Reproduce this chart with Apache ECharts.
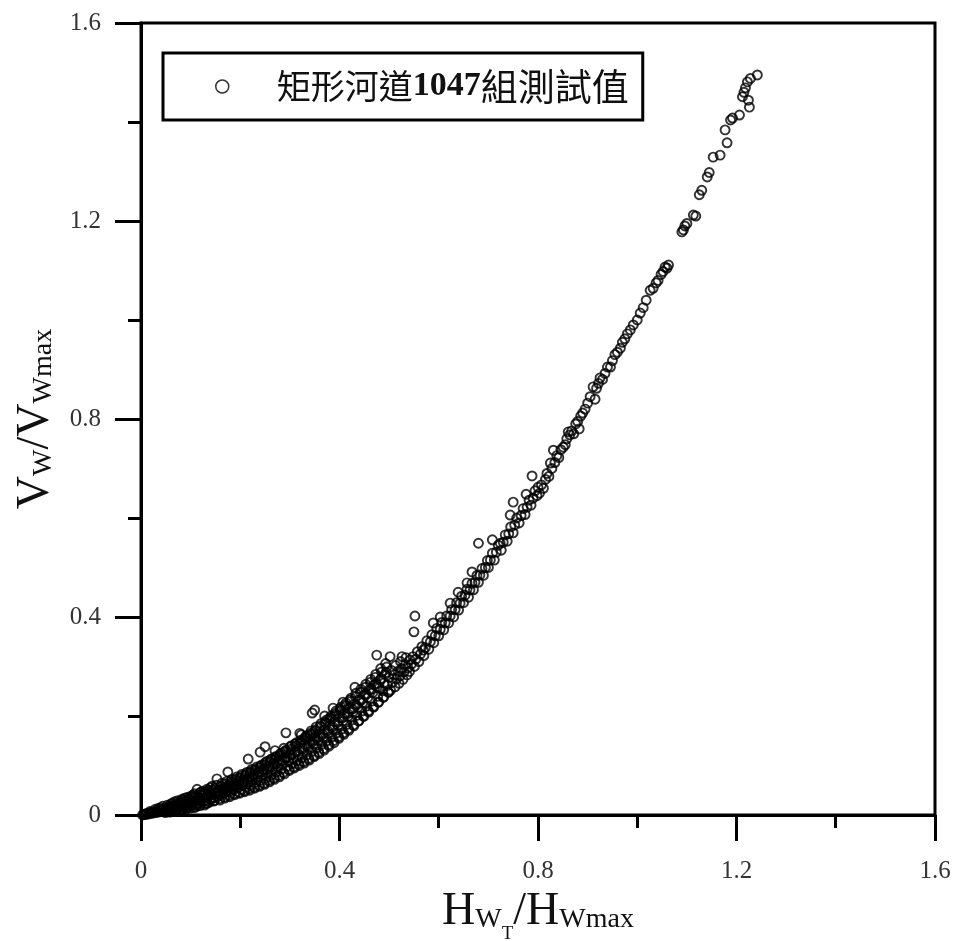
<!DOCTYPE html>
<html lang="zh-Hant">
<head>
  <meta charset="UTF-8">
  <title>矩形河道1047組測試值</title>
  <style>
    html, body { margin: 0; padding: 0; background: #fff; }
    #main { width: 956px; height: 941px; }
  </style>
</head>
<body>
<div id="main"></div>
<script src="https://cdn.jsdelivr.net/npm/echarts@6/dist/echarts.min.js"></script>
<script>
  // 測試值 [Hw/Hwmax, Vw/Vwmax]
  const pointsLow = [
    [0.003,0.000],[0.006,0.001],[0.008,0.002],[0.010,0.001],[0.012,0.003],[0.015,0.002],[0.017,0.004],[0.020,0.003],
    [0.022,0.005],[0.025,0.004],[0.027,0.006],[0.030,0.005],[0.032,0.008],[0.035,0.006],[0.037,0.009],[0.040,0.007],
    [0.040,0.015],[0.042,0.011],[0.045,0.008],[0.047,0.012],[0.050,0.010],[0.052,0.014],[0.055,0.009],[0.057,0.016],
    [0.060,0.012],[0.060,0.022],[0.062,0.018],[0.065,0.011],[0.067,0.015],[0.070,0.020],[0.072,0.013],[0.075,0.017],
    [0.077,0.023],[0.080,0.014],[0.080,0.028],[0.082,0.019],[0.085,0.026],[0.087,0.016],[0.090,0.021],[0.092,0.028],
    [0.095,0.018],[0.097,0.024],[0.100,0.031],[0.100,0.037],[0.102,0.020],[0.105,0.026],[0.107,0.034],[0.110,0.022],
    [0.110,0.016],[0.112,0.029],[0.113,0.052],[0.115,0.037],[0.117,0.024],[0.120,0.032],[0.120,0.046],[0.122,0.040],
    [0.125,0.027],[0.127,0.035],[0.130,0.044],[0.130,0.023],[0.132,0.029],[0.135,0.038],[0.137,0.047],[0.140,0.032],
    [0.140,0.055],[0.142,0.041],[0.145,0.050],[0.147,0.035],[0.150,0.044],[0.153,0.073],[0.155,0.038]
  ];
  // 原點附近密集區的補充讀值
  const pointsDense = [
    [0.018,0.007],[0.028,0.011],[0.034,0.013],[0.044,0.018],[0.049,0.005],[0.053,0.020],[0.058,0.006],[0.063,0.024],
    [0.068,0.027],[0.071,0.009],[0.074,0.029],[0.079,0.010],[0.083,0.032],[0.088,0.034],[0.091,0.012],[0.094,0.036],
    [0.099,0.014],[0.104,0.040],[0.108,0.043],[0.114,0.019],[0.118,0.043],[0.124,0.048],[0.128,0.020],[0.133,0.052],
    [0.138,0.026],[0.143,0.058],[0.148,0.029],[0.152,0.060],[0.158,0.033],[0.163,0.064],[0.168,0.036],[0.173,0.068],
    [0.178,0.040],[0.183,0.072],[0.188,0.043],[0.193,0.077],[0.198,0.046],[0.203,0.082],[0.208,0.049],[0.213,0.086],
    [0.218,0.053],[0.223,0.092],[0.228,0.056],[0.233,0.097],[0.238,0.060],[0.243,0.101],[0.248,0.064],[0.253,0.108],
    [0.258,0.070],[0.263,0.113],[0.268,0.075],[0.273,0.118],[0.278,0.080],[0.283,0.125],[0.287,0.086],[0.293,0.131],
    [0.298,0.092],[0.303,0.140],[0.308,0.097],[0.313,0.146],[0.318,0.103],[0.324,0.152],[0.328,0.108],[0.333,0.160],
    [0.338,0.114],[0.343,0.170],[0.349,0.120],[0.353,0.178],[0.358,0.127],[0.363,0.185],[0.368,0.134],[0.374,0.192],
    [0.378,0.142],[0.383,0.200],[0.388,0.150],[0.393,0.210],[0.398,0.158],[0.403,0.218],[0.408,0.166],[0.413,0.226],
    [0.418,0.174],[0.423,0.236],[0.428,0.182],[0.433,0.246],[0.438,0.190],[0.443,0.254],[0.448,0.200],[0.453,0.264],
    [0.458,0.210],[0.463,0.274],[0.468,0.219],[0.473,0.284],[0.478,0.228],[0.483,0.296],[0.488,0.238],[0.493,0.306],
    [0.498,0.248],[0.505,0.292],[0.513,0.302],[0.523,0.310],[0.534,0.318]
  ];
  const pointsDenseFill = [
    [0.052,0.007],[0.058,0.013],[0.064,0.019],[0.069,0.008],[0.073,0.024],[0.078,0.018],[0.084,0.011],[0.086,0.030],
    [0.093,0.015],[0.096,0.032],[0.101,0.025],[0.106,0.015],[0.109,0.038],[0.116,0.030],[0.119,0.019],[0.123,0.042],
    [0.129,0.036],[0.134,0.024],[0.136,0.050],[0.141,0.045],[0.146,0.028],[0.149,0.054],[0.154,0.049],[0.159,0.030],
    [0.161,0.058],[0.166,0.050],[0.169,0.034],[0.171,0.063],[0.176,0.055],[0.179,0.037],[0.181,0.068],[0.186,0.058],
    [0.189,0.041],[0.191,0.073],[0.196,0.062],[0.199,0.044],[0.201,0.078],[0.206,0.066],[0.209,0.047],[0.211,0.083],
    [0.214,0.072],[0.219,0.050],[0.221,0.088],[0.224,0.077],[0.229,0.054],[0.231,0.093],[0.234,0.082],[0.239,0.058],
    [0.241,0.099],[0.244,0.087],[0.249,0.062],[0.251,0.106],[0.254,0.092],[0.259,0.067],[0.261,0.112],[0.264,0.098],
    [0.269,0.072],[0.271,0.118],[0.274,0.104],[0.279,0.077],[0.281,0.124],[0.284,0.110],[0.289,0.083],[0.291,0.130],
    [0.294,0.116],[0.299,0.090],[0.301,0.138],[0.304,0.122],[0.309,0.095],[0.311,0.144],[0.314,0.128],[0.319,0.100],
    [0.321,0.150],[0.326,0.134],[0.329,0.105],[0.331,0.157],[0.336,0.141],[0.339,0.111],[0.341,0.165],[0.346,0.148],
    [0.349,0.118],[0.351,0.172],[0.356,0.156],[0.359,0.124],[0.361,0.180],[0.366,0.163],[0.369,0.131],[0.371,0.188],
    [0.376,0.170],[0.379,0.139],[0.381,0.196],[0.386,0.178],[0.389,0.146],[0.391,0.205],[0.396,0.187],[0.399,0.155],
    [0.401,0.214],[0.406,0.196],[0.409,0.163],[0.411,0.222],[0.416,0.205],[0.419,0.171],[0.421,0.232],[0.426,0.214],
    [0.429,0.180],[0.434,0.222],[0.439,0.190],[0.444,0.232],[0.449,0.199],[0.454,0.244],[0.459,0.208],[0.464,0.254],
    [0.469,0.218],[0.474,0.266],[0.479,0.228],[0.484,0.276],[0.489,0.238],[0.494,0.288],[0.499,0.248]
  ];
  const pointsLowMid = [
    [0.157,0.048],[0.160,0.040],[0.162,0.052],[0.165,0.043],[0.167,0.057],[0.170,0.045],[0.172,0.055],[0.175,0.087],
    [0.175,0.049],[0.177,0.060],[0.180,0.047],[0.182,0.058],[0.185,0.066],[0.187,0.051],[0.190,0.062],[0.192,0.070],
    [0.195,0.055],[0.197,0.066],[0.200,0.074],[0.202,0.052],[0.205,0.061],[0.207,0.070],[0.210,0.079],[0.212,0.057],
    [0.215,0.066],[0.216,0.113],[0.218,0.076],[0.220,0.085],[0.222,0.061],[0.225,0.071],[0.227,0.081],[0.230,0.090],
    [0.232,0.066],[0.235,0.076],[0.237,0.087],[0.240,0.127],[0.240,0.096],[0.242,0.070],[0.245,0.081],[0.247,0.092],
    [0.250,0.138],[0.250,0.102],[0.252,0.075],[0.255,0.086],[0.257,0.098],[0.260,0.108],[0.262,0.080],[0.265,0.092],
    [0.267,0.104],[0.270,0.115],[0.270,0.130],[0.272,0.086],[0.275,0.097],[0.277,0.110],[0.280,0.121],[0.282,0.092],
    [0.285,0.103],[0.288,0.135],[0.290,0.116],[0.292,0.166],[0.292,0.127],[0.295,0.098],[0.297,0.109],[0.300,0.122]
  ];
  const pointsMid = [
    [0.302,0.133],[0.305,0.104],[0.307,0.115],[0.310,0.128],[0.312,0.140],[0.315,0.110],[0.317,0.122],[0.320,0.165],
    [0.320,0.135],[0.322,0.147],[0.323,0.162],[0.325,0.116],[0.327,0.129],[0.330,0.142],[0.332,0.154],[0.335,0.122],
    [0.337,0.136],[0.340,0.149],[0.342,0.162],[0.345,0.206],[0.345,0.129],[0.347,0.165],[0.348,0.143],[0.350,0.212],
    [0.350,0.157],[0.352,0.170],[0.355,0.136],[0.357,0.150],[0.360,0.164],[0.362,0.178],[0.365,0.143],[0.367,0.157],
    [0.370,0.200],[0.370,0.172],[0.372,0.186],[0.375,0.150],[0.377,0.165],[0.380,0.180],[0.382,0.194],[0.385,0.158],
    [0.387,0.216],[0.387,0.173],[0.390,0.188],[0.392,0.202],[0.395,0.166],[0.397,0.181],[0.400,0.197],[0.402,0.211],
    [0.405,0.174],[0.407,0.228],[0.407,0.190],[0.410,0.205],[0.412,0.220],[0.415,0.183],[0.417,0.199],[0.420,0.214],
    [0.422,0.229],[0.425,0.192],[0.427,0.208],[0.430,0.224],[0.431,0.258],[0.432,0.239],[0.435,0.201],[0.437,0.217],
    [0.440,0.233],[0.442,0.248],[0.445,0.210],[0.447,0.227],[0.450,0.243],[0.452,0.258],[0.455,0.220],[0.457,0.237],
    [0.460,0.253],[0.462,0.268],[0.465,0.230],[0.467,0.247],[0.470,0.263],[0.472,0.278],[0.475,0.323],[0.476,0.259],
    [0.477,0.240],[0.480,0.257],[0.482,0.273],[0.485,0.289],[0.487,0.251],[0.490,0.267],[0.492,0.284],[0.495,0.299],
    [0.497,0.262],[0.500,0.278],[0.502,0.320]
  ];
  const pointsUpperMid = [
    [0.503,0.252],[0.507,0.268],[0.510,0.283],[0.512,0.259],[0.515,0.275],[0.518,0.290],[0.520,0.266],[0.522,0.281],
    [0.526,0.320],[0.525,0.296],[0.528,0.274],[0.530,0.289],[0.533,0.304],[0.536,0.283],[0.538,0.297],[0.542,0.313],
    [0.541,0.290],[0.545,0.305],[0.548,0.320],[0.550,0.370],[0.552,0.402],[0.551,0.300],[0.554,0.315],[0.557,0.330],
    [0.560,0.310],[0.563,0.325],[0.566,0.340],[0.569,0.333],[0.570,0.322],[0.573,0.338],[0.576,0.352],[0.580,0.335],
    [0.583,0.350],[0.586,0.364],[0.589,0.388],[0.590,0.348],[0.593,0.362],[0.596,0.377],[0.600,0.362],[0.603,0.400],
    [0.603,0.375],[0.606,0.389],[0.610,0.374],[0.613,0.388],[0.616,0.402],[0.620,0.388],[0.623,0.428],[0.623,0.402],
    [0.626,0.415],[0.630,0.400],[0.633,0.415],[0.636,0.429],[0.639,0.450],[0.640,0.414],[0.643,0.428],[0.646,0.442],
    [0.650,0.429],[0.653,0.444],[0.657,0.469],[0.657,0.456],[0.660,0.440],[0.663,0.455],[0.667,0.491],[0.667,0.468],
    [0.670,0.455],[0.673,0.470],[0.677,0.484],[0.680,0.549],[0.680,0.470],[0.683,0.485],[0.687,0.498],[0.690,0.484],
    [0.694,0.500],[0.698,0.514],[0.700,0.500],[0.704,0.515],[0.708,0.556],[0.708,0.529],[0.712,0.515],[0.716,0.531],
    [0.720,0.545],[0.724,0.549],[0.726,0.535],[0.730,0.551],[0.734,0.566],[0.738,0.553],[0.741,0.568],[0.744,0.606],
    [0.745,0.582],[0.750,0.632],[0.750,0.570],[0.753,0.586],[0.757,0.600],[0.762,0.590],[0.766,0.605],[0.770,0.619],
    [0.776,0.648],[0.774,0.607],[0.778,0.622],[0.782,0.636],[0.788,0.685],[0.786,0.626],[0.790,0.640],[0.794,0.655],
    [0.798,0.645],[0.800,0.662]
  ];
  const pointsHigh = [
    [0.803,0.650],[0.807,0.667],[0.811,0.660],[0.815,0.678],[0.818,0.690],[0.822,0.684],[0.825,0.711],[0.828,0.700],
    [0.831,0.737],[0.834,0.712],[0.838,0.726],[0.842,0.722],[0.846,0.738],[0.851,0.743],[0.855,0.748],[0.858,0.760],
    [0.861,0.774],[0.864,0.768],[0.868,0.776],[0.872,0.770],[0.876,0.790],[0.880,0.795],[0.883,0.780],[0.886,0.806],
    [0.890,0.812],[0.895,0.820],[0.900,0.832],[0.905,0.845],[0.911,0.865],[0.915,0.840],[0.918,0.862],[0.922,0.872],
    [0.925,0.883],[0.930,0.880],[0.935,0.892],[0.940,0.905],[0.946,0.905],[0.950,0.918],[0.955,0.930],[0.960,0.935],
    [0.966,0.943],[0.970,0.955],[0.975,0.962],[0.980,0.972],[0.986,0.980],[0.992,0.990],[1.000,1.000],[1.006,1.014],
    [1.012,1.025],[1.018,1.040],[1.026,1.060],[1.032,1.064],[1.038,1.075],[1.042,1.080],[1.048,1.092],[1.052,1.098],
    [1.056,1.107],[1.060,1.105],[1.063,1.111]
  ];
  const pointsTop = [
    [1.090,1.178],[1.093,1.182],[1.096,1.190],[1.100,1.195],[1.113,1.212],[1.118,1.210],[1.125,1.253],[1.130,1.262],
    [1.141,1.289],[1.145,1.298],[1.153,1.329],[1.167,1.333],[1.177,1.384],[1.181,1.358],[1.188,1.404],[1.192,1.408],
    [1.206,1.414],[1.212,1.451],[1.215,1.460],[1.218,1.469],[1.222,1.481],[1.224,1.444],[1.226,1.430],[1.228,1.488],
    [1.242,1.495]
  ];

  const axisTicks = { min: 0, max: 1.6, interval: 0.4 };
  const seriesName = '矩形河道1047組測試值';

  const measured = [].concat(pointsLow, pointsDense, pointsDenseFill, pointsLowMid,
    pointsMid, pointsUpperMid, pointsHigh, pointsTop);

  const serif = '"Liberation Serif", "DejaVu Serif", serif';
  const cjk = '"Noto Sans CJK TC", "Noto Sans CJK SC", sans-serif';

  function axisCommon(margin) {
    return {
      type: 'value',
      min: axisTicks.min,
      max: axisTicks.max,
      interval: axisTicks.interval,
      splitLine: { show: false },
      axisLine: { show: true, onZero: false, lineStyle: { color: '#000', width: 3 } },
      axisTick: { show: true, inside: false, length: 26, lineStyle: { color: '#000', width: 3 } },
      minorTick: { show: true, splitNumber: 2, length: 13, lineStyle: { color: '#000', width: 3 } },
      axisLabel: { color: '#333', fontFamily: serif, fontSize: 25, margin: margin }
    };
  }

  // 軸名：大字 + 小寫下標
  const nameRich = {
    big: { fontFamily: serif, fontSize: 46, color: '#111', verticalAlign: 'bottom', padding: [0, 0, 9, 0] },
    sm: { fontFamily: serif, fontSize: 28, color: '#111', verticalAlign: 'bottom', padding: [0, 0, 10, 0] },
    sub: { fontFamily: serif, fontSize: 19, color: '#111', verticalAlign: 'bottom' }
  };

  let chart = echarts.init(document.getElementById('main'));
  let option = {
    backgroundColor: '#fff',
    animation: false,
    grid: {
      left: 141, right: 21, top: 23, bottom: 126,
      outerBoundsMode: 'none',
      containLabel: false,
      show: true, borderColor: '#000', borderWidth: 3, backgroundColor: 'transparent'
    },
    legend: {
      left: 163, top: 53,
      padding: [15, 14, 15, 52],
      borderColor: '#000', borderWidth: 3,
      itemWidth: 13, itemHeight: 13,
      icon: 'circle',
      itemStyle: { color: '#fff', borderColor: '#000', borderWidth: 1.5 },
      data: [seriesName],
      formatter: () => '{s|}{a|矩形河道}{b|1047}{c|組測試值}',
      textStyle: {
        rich: {
          s: { width: 43 },
          a: { fontFamily: cjk, fontSize: 34, color: '#111' },
          b: { fontFamily: serif, fontSize: 34, fontWeight: 'bold', color: '#111' },
          c: { fontFamily: cjk, fontSize: 37, color: '#111' }
        }
      }
    },
    xAxis: Object.assign(axisCommon(44), {
      name: '{big|H}{sm|W}{sub|T}{big|/H}{sm|Wmax}',
      nameLocation: 'middle',
      nameGap: 74,
      nameTextStyle: { rich: nameRich }
    }),
    yAxis: Object.assign(axisCommon(40), {
      name: '{big|V}{sm|W}{big|/V}{sm|Wmax}',
      nameLocation: 'middle',
      nameGap: 72,
      nameRotate: 90,
      nameTextStyle: { rich: nameRich }
    }),
    series: [{
      name: seriesName,
      type: 'scatter',
      data: measured,
      symbol: 'circle',
      symbolSize: 9,
      itemStyle: { color: 'rgba(255,255,255,0)', borderColor: '#000', borderWidth: 1.9 },
      emphasis: { disabled: true },
      clip: false
    }]
  };
  chart.setOption(option);
</script>
</body>
</html>
